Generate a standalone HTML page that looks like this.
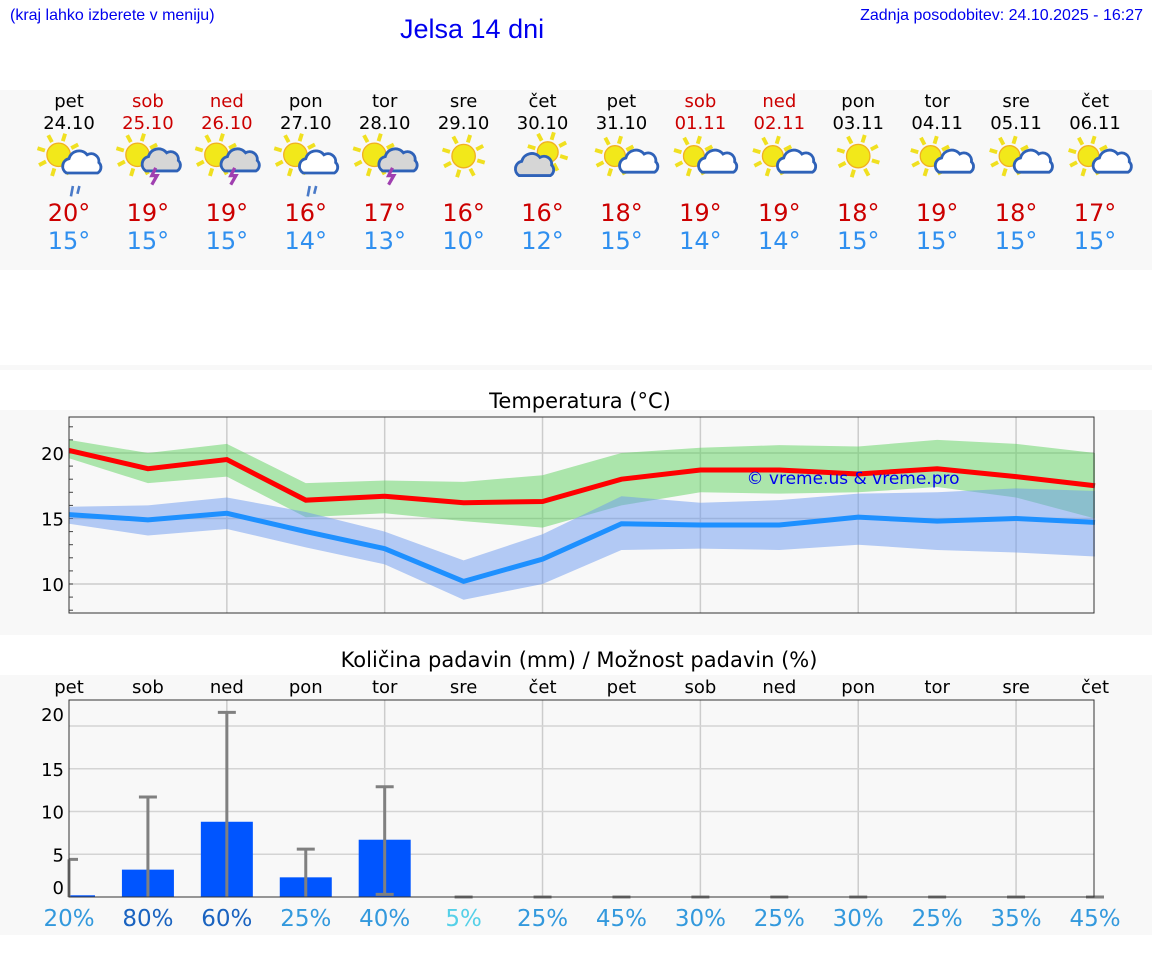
<!DOCTYPE html>
<html><head><meta charset="utf-8"><style>
body{margin:0;width:1152px;height:975px;background:#fff;position:relative;overflow:hidden;font-family:"DejaVu Sans","Liberation Sans",sans-serif}
.abs{position:absolute}
</style></head><body>
<div class="abs" style="left:10px;top:7px;font:16px 'Liberation Sans',sans-serif;color:#0000ee">(kraj lahko izberete v meniju)</div>
<div class="abs" style="left:400px;top:14px;font:27px 'Liberation Sans',sans-serif;color:#0000ee">Jelsa 14 dni</div>
<div class="abs" style="right:9px;top:7px;font:16px 'Liberation Sans',sans-serif;color:#0000ee">Zadnja posodobitev: 24.10.2025 - 16:27</div>
<div class="abs" style="left:0;top:90px;width:1152px;height:180px;background:#f8f8f8"></div>
<div class="abs" style="left:0;top:365px;width:1152px;height:5px;background:#f8f8f8"></div>
<div class="abs" style="left:0;top:410px;width:1152px;height:225px;background:#f8f8f8"></div>
<div class="abs" style="left:0;top:675px;width:1152px;height:260px;background:#f8f8f8"></div>
<svg class="abs" style="left:0;top:0" width="1152" height="975" id="svg"></svg>
<script>
const days=["pet","sob","ned","pon","tor","sre","čet","pet","sob","ned","pon","tor","sre","čet"];
const dates=["24.10","25.10","26.10","27.10","28.10","29.10","30.10","31.10","01.11","02.11","03.11","04.11","05.11","06.11"];
const weekend=[0,1,1,0,0,0,0,0,1,1,0,0,0,0];
const icons=["rain","storm","storm","rain","storm","sun","cloud","pc","pc","pc","sun","pc","pc","pc"];
const tmax=[20,19,19,16,17,16,16,18,19,19,18,19,18,17];
const tmin=[15,15,15,14,13,10,12,15,14,14,15,15,15,15];
const maxLine=[20.2,18.8,19.5,16.4,16.7,16.2,16.3,18,18.7,18.7,18.4,18.8,18.2,17.5];
const maxHi=[21,20,20.7,17.7,17.9,17.8,18.3,20,20.4,20.6,20.5,21,20.7,20];
const maxLo=[19.6,17.7,18.2,15.1,15.4,14.8,14.3,16,17,16.9,17,17.4,16.6,15];
const minLine=[15.3,14.9,15.4,14,12.7,10.2,11.9,14.6,14.5,14.5,15.1,14.8,15,14.7];
const minHi=[15.9,16,16.6,15.5,14,11.8,13.8,16.7,16.2,16.4,16.9,17,17.3,17.1];
const minLo=[14.6,13.7,14.2,12.8,11.5,8.8,10,12.6,12.7,12.6,13,12.6,12.4,12.1];
const tempTicks=[10,15,20];
const precip=[0.2,3.2,8.8,2.3,6.7,0,0,0,0,0,0,0,0,0];
const precipHi=[4.4,11.7,21.6,5.6,12.9,0,0,0,0,0,0,0,0,0];
const precipLo=[0,0,0,0,0.3,0,0,0,0,0,0,0,0,0];
const chance=[20,80,60,25,40,5,25,45,30,25,30,25,35,45];
const precipTicks=[0,5,10,15,20];

const NS="http://www.w3.org/2000/svg";
const svg=document.getElementById('svg');
function el(t,a,p){const e=document.createElementNS(NS,t);for(const k in a)e.setAttribute(k,a[k]);(p||svg).appendChild(e);return e;}
const X0=69,DX=(1095-69)/13;
const xp=i=>X0+i*DX;
const yT=v=>453-(v-20)*13.1;
const yP=v=>897-v*8.55;
const F='"DejaVu Sans",sans-serif';

days.forEach((d,i)=>{
  const c=weekend[i]?'#cc0000':'#000';
  let t=el('text',{x:xp(i),y:107,'text-anchor':'middle','font-size':18,'font-family':F,fill:c});t.textContent=d;
  
  
  t=el('text',{x:xp(i),y:129,'text-anchor':'middle','font-size':18,'font-family':F,fill:c});t.textContent=dates[i];
  
  
  const g=el('g',{transform:`translate(${xp(i)},160) scale(1.3)`});
  
  
  drawIcon(g,icons[i]);
  t=el('text',{x:xp(i),y:221,'text-anchor':'middle','font-size':24,'font-family':F,fill:'#cc0000'});t.textContent=tmax[i]+'°';
  
  
  t=el('text',{x:xp(i),y:249,'text-anchor':'middle','font-size':24,'font-family':F,fill:'#2f8fef'});t.textContent=tmin[i]+'°';
  
  
});
function sun(g,cx,cy,r){
  for(let k=0;k<8;k++){const a=k*Math.PI/4+0.3;el('line',{x1:cx+Math.cos(a)*(r+2),y1:cy+Math.sin(a)*(r+2),x2:cx+Math.cos(a)*(r+8),y2:cy+Math.sin(a)*(r+8),stroke:'#f0e020','stroke-width':3},g);}
  el('circle',{cx,cy,r,fill:'#f2e81a',stroke:'#f0b020','stroke-width':1},g);
}
function cloud(g,x,y,s,fill){
  el('path',{d:`M${x-12*s} ${y+8*s} a6 6 0 0 1 2 -11 a8 8 0 0 1 14 -3 a6 6 0 0 1 9 6 a5 5 0 0 1 -1 8 z`,fill,stroke:'#2f62b8','stroke-width':2.2},g);
}
function drawIcon(g,type){
  if(type==='sun'){sun(g,0,-3,9);return;}
  if(type==='cloud'){sun(g,4,-6,8);cloud(g,-6,4,1,'#d6d6d6');return;}
  if(type==='pc'){sun(g,-5,-3,8);cloud(g,11,3,0.8,'#fff');return;}
  sun(g,-8,-4,9);
  if(type==='rain'){cloud(g,10,2,1,'#fff');el('path',{d:'M3 20 l-1.5 8 M8 20 l-1.5 6',stroke:'#4a7ac8','stroke-width':2},g);}
  else{cloud(g,8,2,0.8,'#d6d6d6');el('path',{d:'M6 6 l-3 6 h4 l-4 7',stroke:'#a040b0','stroke-width':2.5,fill:'none'},g);}
}

let t=el('text',{x:580,y:408,'text-anchor':'middle','font-size':21,'font-family':F,fill:'#000'});t.textContent='Temperatura (°C)';


[2,4,6,8,10,12].forEach(i=>el('line',{x1:xp(i),x2:xp(i),y1:417,y2:613,stroke:'#ccc','stroke-width':1.5}));
tempTicks.forEach(v=>{el('line',{x1:69,x2:1094,y1:yT(v),y2:yT(v),stroke:'#ccc','stroke-width':1.5});
 const tt=el('text',{x:64,y:yT(v)+7,'text-anchor':'end','font-size':18,'font-family':F});tt.textContent=v;
 
 });
for(let v=8;v<=22;v++)el('line',{x1:69,x2:73,y1:yT(v),y2:yT(v),stroke:'#444'});
function band(hi,lo,fill,name){const pts=hi.map((v,i)=>xp(i)+','+yT(v)).concat(lo.map((v,i)=>xp(i)+','+yT(v)).reverse());
 const p=el('polygon',{points:pts.join(' '),fill,'fill-opacity':0.5});
 
 }
function line(arr,stroke,name){const p=el('polyline',{points:arr.map((v,i)=>xp(i)+','+yT(v)).join(' '),fill:'none',stroke,'stroke-width':5});
 
 }
band(maxHi,maxLo,'#5ed25e','max-temp-band');
band(minHi,minLo,'#6b9af0','min-temp-band');
line(maxLine,'#ff0000','max-temp-line');
line(minLine,'#1e90ff','min-temp-line');
t=el('text',{x:853,y:484,'text-anchor':'middle','font-size':17,'font-family':F,fill:'#0000ee'});t.textContent='© vreme.us & vreme.pro';


el('rect',{x:69,y:417,width:1025,height:196,fill:'none',stroke:'#333','stroke-width':1});

t=el('text',{x:579,y:667,'text-anchor':'middle','font-size':21,'font-family':F});t.textContent='Količina padavin (mm) / Možnost padavin (%)';


days.forEach((d,i)=>{const tt=el('text',{x:xp(i),y:693,'text-anchor':'middle','font-size':18,'font-family':F});tt.textContent=d;
 
 });
[2,4,6,8,10,12].forEach(i=>el('line',{x1:xp(i),x2:xp(i),y1:700,y2:897,stroke:'#ccc','stroke-width':1.5}));
precipTicks.forEach(v=>{if(v>0)el('line',{x1:69,x2:1094,y1:yP(v),y2:yP(v),stroke:'#d4d4d4','stroke-width':1.5});
 const ly=v===0?yP(v)-3:v===20?yP(v)-5:yP(v)+7;
 const tt=el('text',{x:64,y:ly,'text-anchor':'end','font-size':18,'font-family':F});tt.textContent=v;
 
 });
const cg=el('g',{});
precip.forEach((v,i)=>{
  const w=52,x=xp(i)-w/2;
  const xl=Math.max(x,69);
  if(v>0){const r=el('rect',{x:xl,y:yP(v),width:x+w-xl,height:yP(0)-yP(v),fill:'#0055ff'},cg);
   
   }
  let d=`M${xp(i)} ${yP(precipLo[i])} V${yP(precipHi[i])} M${Math.max(xp(i)-9,69)} ${yP(precipHi[i])} H${xp(i)+9}`;
  if(precipLo[i]>0)d+=` M${xp(i)-9} ${yP(precipLo[i])} H${xp(i)+9}`;
  const e=el('path',{d,stroke:'#808080','stroke-width':3,fill:'none'},cg);
  
  
  const c=chance[i]>=60?'#1a63c0':chance[i]<10?'#55d0e8':'#3399dd';
  const tt=el('text',{x:xp(i),y:926,'text-anchor':'middle','font-size':23,'font-family':F,fill:c});tt.textContent=chance[i]+'%';
  
  
});
el('rect',{x:69,y:700,width:1025,height:197,fill:'none',stroke:'#333','stroke-width':1});
</script>
</body></html>
